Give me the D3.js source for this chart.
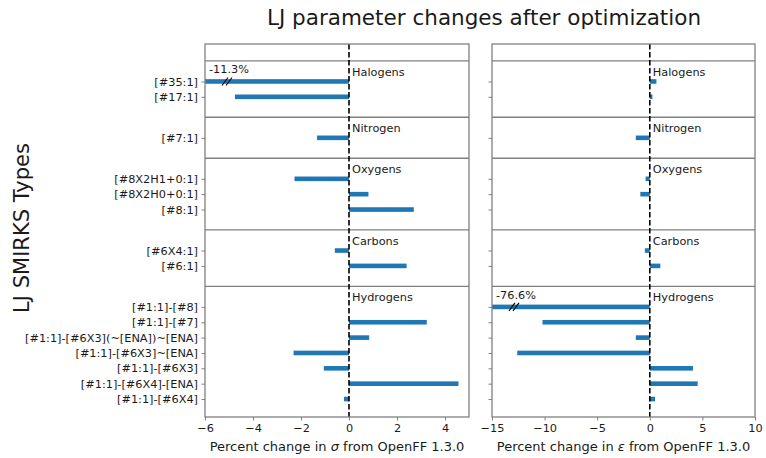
<!DOCTYPE html>
<html>
<head>
<meta charset="utf-8">
<script src="https://cdn.jsdelivr.net/npm/d3@7"></script>
<style>
  body { margin: 0; background: #fff; }
  text { font-family: "DejaVu Sans", sans-serif; }
</style>
</head>
<body>
<div id="chart"></div>
<script>
// Groups listed bottom to top, as they stack on the y axis
const groups = ["Hydrogens", "Carbons", "Oxygens", "Nitrogen", "Halogens"];

const smirks = {
    Hydrogens: ["[#1:1]-[#6X4]", "[#1:1]-[#6X4]-[ENA]", "[#1:1]-[#6X3]", "[#1:1]-[#6X3]~[ENA]",
                "[#1:1]-[#6X3](~[ENA])~[ENA]", "[#1:1]-[#7]", "[#1:1]-[#8]"],
    Carbons: ["[#6:1]", "[#6X4:1]"],
    Oxygens: ["[#8:1]", "[#8X2H0+0:1]", "[#8X2H1+0:1]"],
    Nitrogen: ["[#7:1]"],
    Halogens: ["[#17:1]", "[#35:1]"]
};

// percent change in sigma, same order as smirks
const sigmaChange = {
    Hydrogens: [-0.21, 4.56, -1.05, -2.31, 0.84, 3.24, 0.0],
    Carbons: [2.4, -0.59],
    Oxygens: [2.7, 0.81, -2.27],
    Nitrogen: [-1.33],
    Halogens: [-4.75, -11.3]
};

// percent change in epsilon
const epsilonChange = {
    Hydrogens: [0.5, 4.55, 4.1, -12.6, -1.33, -10.2, -76.6],
    Carbons: [1.0, -0.47],
    Oxygens: [0.0, -0.9, -0.4],
    Nitrogen: [-1.33],
    Halogens: [0.25, 0.63]
};

const sigmaTicks = [-6, -4, -2, 0, 2, 4];
const epsilonTicks = [-15, -10, -5, 0, 5, 10];

const width = 766, height = 458;
const axTop = 44, axBottom = 417;
const groupGap = 2.67;   // row units between the last row of a group and the next one
const smallFont = "11.3px";

// build row positions (row units) and separators
const rows = [];
const separators = [];
let pos = 0;
groups.forEach(g => {
    smirks[g].forEach((name, i) => {
        rows.push({ group: g, name: name, pos: pos, sigma: sigmaChange[g][i], eps: epsilonChange[g][i] });
        pos += 1;
    });
    pos -= 1;
    separators.push(pos + 1.34);
    pos += groupGap;
});
const topPos = separators[separators.length - 1] + 1.1;

const yScale = d3.scaleLinear()
    .domain([-1.17, topPos])
    .range([axBottom, axTop]);

const svg = d3.select("#chart")
    .append("svg")
    .attr("width", width)
    .attr("height", height);

const panels = [
    { key: "sigma", x0: 205, x1: 469, domain: [-6, 5], ticks: sigmaTicks, sym: "σ", showLabels: true },
    { key: "eps", x0: 492, x1: 755, domain: [-15, 10], ticks: epsilonTicks, sym: "ε", showLabels: false }
];

const spineColor = "#808080";
const textColor = "#1a1a1a";

panels.forEach(p => {
    const xScale = d3.scaleLinear().domain(p.domain).range([p.x0, p.x1]);
    const g = svg.append("g");

    // bars, clipped to the axes
    const clipId = "clip-" + p.key;
    svg.append("clipPath").attr("id", clipId)
        .append("rect")
        .attr("x", p.x0).attr("y", axTop)
        .attr("width", p.x1 - p.x0).attr("height", axBottom - axTop);

    const barH = 4.6;
    g.append("g")
        .attr("clip-path", `url(#${clipId})`)
        .selectAll("rect")
        .data(rows)
        .enter()
        .append("rect")
        .attr("x", d => xScale(Math.min(0, d[p.key])))
        .attr("y", d => yScale(d.pos) - barH / 2)
        .attr("width", d => Math.abs(xScale(d[p.key]) - xScale(0)))
        .attr("height", barH)
        .attr("fill", "#1f77b4");

    // bars that run past the left limit get a break mark and their value
    const clipped = rows.filter(d => d[p.key] < p.domain[0]);
    clipped.forEach(d => {
        const yc = yScale(d.pos);
        const xb = xScale(p.domain[0]) + 20;
        [0, 4].forEach(off => {
            g.append("line")
                .attr("x1", xb + off - 3).attr("y1", yc + 4)
                .attr("x2", xb + off + 3).attr("y2", yc - 4)
                .attr("stroke", "#000")
                .attr("stroke-width", 1.1);
        });
        g.append("text")
            .attr("x", p.x0 + 4)
            .attr("y", yc - 8)
            .attr("font-size", smallFont)
            .attr("fill", textColor)
            .text(`${d[p.key]}%`);
    });

    // group separators
    g.selectAll(".sep")
        .data(separators)
        .enter()
        .append("line")
        .attr("x1", p.x0).attr("x2", p.x1)
        .attr("y1", d => yScale(d)).attr("y2", d => yScale(d))
        .attr("stroke", spineColor)
        .attr("stroke-width", 1.3);

    // zero line
    g.append("line")
        .attr("x1", xScale(0)).attr("x2", xScale(0))
        .attr("y1", axTop).attr("y2", axBottom)
        .attr("stroke", "#000")
        .attr("stroke-width", 1.6)
        .attr("stroke-dasharray", "5.5,2.5");

    // group labels
    groups.forEach((grp, gi) => {
        g.append("text")
            .attr("x", xScale(0) + 3)
            .attr("y", yScale(separators[gi]) + 15)
            .attr("font-size", smallFont)
            .attr("fill", textColor)
            .text(grp);
    });

    // frame
    g.append("rect")
        .attr("x", p.x0).attr("y", axTop)
        .attr("width", p.x1 - p.x0).attr("height", axBottom - axTop)
        .attr("fill", "none")
        .attr("stroke", spineColor)
        .attr("stroke-width", 1.3);

    // x axis
    const xAxis = d3.axisBottom(xScale)
        .tickValues(p.ticks)
        .tickSize(3.5)
        .tickPadding(3.5)
        .tickFormat(d => d3.format("d")(d).replace("-", "−"));
    const xg = svg.append("g")
        .attr("transform", `translate(0, ${axBottom})`)
        .call(xAxis);
    xg.select(".domain").remove();
    xg.selectAll("line").attr("stroke", spineColor);
    xg.selectAll("text")
        .attr("font-family", "DejaVu Sans, sans-serif")
        .attr("font-size", smallFont)
        .attr("fill", textColor);

    // y axis
    const yAxis = d3.axisLeft(yScale)
        .tickValues(rows.map(d => d.pos))
        .tickSize(3.5)
        .tickPadding(3.5)
        .tickFormat((d, i) => p.showLabels ? rows[i].name : "");
    const yg = svg.append("g")
        .attr("transform", `translate(${p.x0}, 0)`)
        .call(yAxis);
    yg.select(".domain").remove();
    yg.selectAll("line").attr("stroke", spineColor);
    yg.selectAll("text")
        .attr("font-family", "DejaVu Sans, sans-serif")
        .attr("font-size", smallFont)
        .attr("fill", textColor);

    // x label
    const lab = svg.append("text")
        .attr("x", (p.x0 + p.x1) / 2)
        .attr("y", 451)
        .attr("text-anchor", "middle")
        .attr("font-size", "13px")
        .attr("fill", textColor);
    lab.append("tspan").text("Percent change in ");
    lab.append("tspan").attr("font-style", "italic").text(p.sym);
    lab.append("tspan").text(" from OpenFF 1.3.0");
});

// title
svg.append("text")
    .attr("x", 484)
    .attr("y", 25)
    .attr("text-anchor", "middle")
    .attr("font-size", "21.5px")
    .attr("fill", textColor)
    .text("LJ parameter changes after optimization");

// y label
svg.append("text")
    .attr("transform", `translate(29, 228) rotate(-90)`)
    .attr("text-anchor", "middle")
    .attr("font-size", "21px")
    .attr("fill", textColor)
    .text("LJ SMIRKS Types");
</script>
</body>
</html>
